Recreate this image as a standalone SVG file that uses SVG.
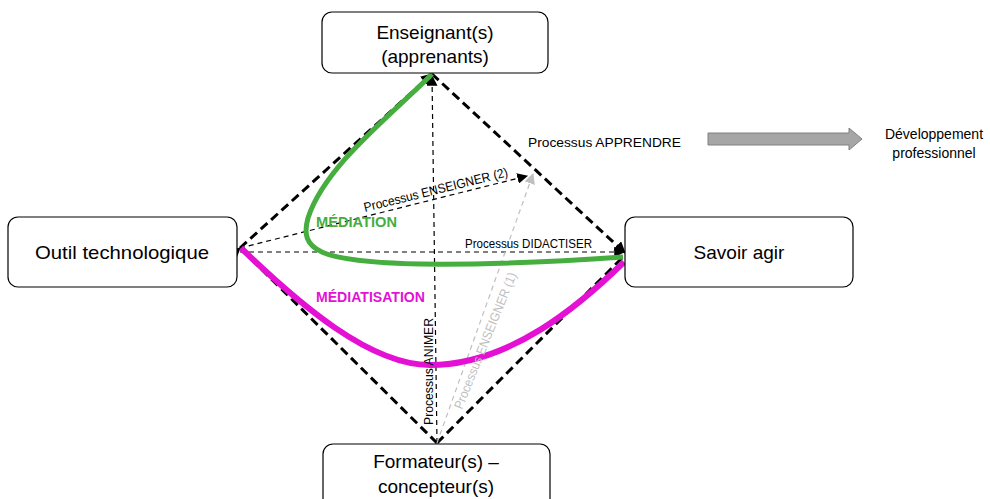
<svg xmlns="http://www.w3.org/2000/svg" width="990" height="499" viewBox="0 0 990 499">
<defs>
<style>
.node{fill:#fff;stroke:#000;stroke-width:1.2}
.nt{font-family:"Liberation Sans",Arial,sans-serif;font-size:19px;fill:#000;text-anchor:middle}
.lbl{font-family:"Liberation Sans",Arial,sans-serif;font-size:13px;fill:#000}
.thick{fill:none;stroke:#000;stroke-width:3;stroke-dasharray:9,5}
.thin{fill:none;stroke:#000;stroke-width:1.2;stroke-dasharray:5,4}
.gray{fill:none;stroke:#bfbfbf;stroke-width:1.2;stroke-dasharray:5,4}
</style>
<marker id="ab" viewBox="0 0 10 10" refX="9" refY="5" markerWidth="4" markerHeight="4" orient="auto" markerUnits="strokeWidth"><path d="M0,0 L10,5 L0,10 z" fill="#000"/></marker>
<marker id="as" viewBox="0 0 10 10" refX="9" refY="5" markerWidth="9" markerHeight="9" orient="auto" markerUnits="strokeWidth"><path d="M0,0 L10,5 L0,10 z" fill="#000"/></marker>
<marker id="ag" viewBox="0 0 10 10" refX="9" refY="5" markerWidth="9" markerHeight="9" orient="auto" markerUnits="strokeWidth"><path d="M0,0 L10,5 L0,10 z" fill="#bfbfbf"/></marker>
</defs>
<rect width="990" height="499" fill="#fff"/>
<g id="connectors">
<path class="thick" d="M240,248 L432,74" marker-start="url(#ab)" marker-end="url(#ab)"/>
<path class="thick" d="M432,74 L625,253" marker-end="url(#ab)"/>
<path class="thick" d="M437,443 L240,248"/>
<path class="thick" d="M437,443 L625,255"/>
<path class="thin" d="M437,443 L432,76" marker-end="url(#as)"/>
<path class="thin" d="M240,252 L624,252" marker-end="url(#as)"/>
<path class="thin" d="M240,248 L527,176" marker-end="url(#as)"/>
<path class="gray" d="M437,443 L533,174" marker-end="url(#ag)"/>
<path d="M432,74 C395,112 325,165 308,218 C299,250 318,262 420,264 C500,265 580,260 623,257" fill="none" stroke="#46ad3f" stroke-width="5"/>
<path d="M241,248 C300,305 370,365 430,365 C510,365 580,305 624,262" fill="none" stroke="#e411d4" stroke-width="6"/>
<text class="lbl" x="528" y="147" textLength="153" lengthAdjust="spacingAndGlyphs">Processus APPRENDRE</text>
<text class="lbl" x="465" y="248" textLength="127" lengthAdjust="spacingAndGlyphs">Processus DIDACTISER</text>
<text class="lbl" transform="translate(365,212) rotate(-14)" textLength="148" lengthAdjust="spacingAndGlyphs">Processus ENSEIGNER (2)</text>
<text class="lbl" transform="translate(433,425) rotate(-90)" textLength="107" lengthAdjust="spacingAndGlyphs">Processus ANIMER</text>
<text class="lbl" style="fill:#bfbfbf" transform="translate(462,410) rotate(-68)" textLength="146" lengthAdjust="spacingAndGlyphs">Processus ENSEIGNER (1)</text>
<text x="316" y="227" font-family="Liberation Sans,Arial,sans-serif" font-size="14" font-weight="bold" fill="#46ad3f" textLength="81" lengthAdjust="spacingAndGlyphs">MÉDIATION</text>
<text x="316" y="302" font-family="Liberation Sans,Arial,sans-serif" font-size="14" font-weight="bold" fill="#e411d4" textLength="109" lengthAdjust="spacingAndGlyphs">MÉDIATISATION</text>
<path d="M708,133 L849,133 L849,128 L862,139 L849,150 L849,145 L708,145 z" fill="#a6a6a6" stroke="#808080" stroke-width="1"/>
</g>
<g id="n-enseignant">
<rect class="node" x="322" y="12" width="226" height="61" rx="10"/>
<text class="nt" x="435" y="39">Enseignant(s)</text>
<text class="nt" x="435" y="63">(apprenants)</text>
</g>
<g id="n-outil">
<rect class="node" x="8" y="217" width="229" height="70" rx="10"/>
<text class="nt" x="122" y="259" textLength="174" lengthAdjust="spacingAndGlyphs">Outil technologique</text>
</g>
<g id="n-savoir">
<rect class="node" x="625" y="217" width="228" height="70" rx="10"/>
<text class="nt" x="739" y="259">Savoir agir</text>
</g>
<g id="n-formateur">
<rect class="node" x="323" y="444" width="227" height="70" rx="10"/>
<text class="nt" x="436" y="468">Formateur(s) –</text>
<text class="nt" x="436" y="493">concepteur(s)</text>
</g>
<g id="n-dev">
<text class="lbl" x="934" y="139" text-anchor="middle" font-size="14" style="font-size:14px">Développement</text>
<text class="lbl" x="934" y="158" text-anchor="middle" style="font-size:14px">professionnel</text>
</g>
</svg>
